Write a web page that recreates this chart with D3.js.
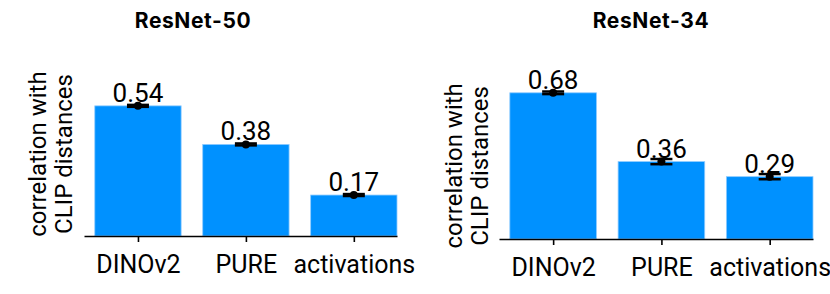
<!DOCTYPE html>
<html>
<head>
<meta charset="utf-8">
<script src="https://cdn.jsdelivr.net/npm/d3@7"></script>
<style>
  body { margin: 0; background: #fff; }
  text { font-family: Roboto, "Noto Sans", sans-serif; }
</style>
</head>
<body>
<div id="chart"></div>
<script>
// data
let categories = ['DINOv2', 'PURE', 'activations'];
let titles = ['ResNet-50', 'ResNet-34'];
let values50 = [0.54, 0.38, 0.17];
let errors50 = [0.004, 0.004, 0.004];
let values34 = [0.68, 0.36, 0.29];
let errors34 = [0.006, 0.012, 0.012];

let width = 830;
let height = 294;

let svg = d3.select('#chart')
    .append('svg')
    .attr('width', width)
    .attr('height', height);

// one panel per model, pixel spots picked to line up with the reference
let panels = [
    { title: titles[0], values: values50, errors: errors50, left: 84, right: 397, zero: 236, unit: 241, titleX: 193, labelX: 38 },
    { title: titles[1], values: values34, errors: errors34, left: 499, right: 813, zero: 239, unit: 215, titleX: 651, labelX: 454 }
];

panels.forEach(p => {
    let g = svg.append('g');

    // x as a linear scale over bar index, like matplotlib
    let x = d3.scaleLinear()
        .domain([-0.5, 2.4])
        .range([p.left, p.right]);
    let y = d3.scaleLinear()
        .domain([0, 0.68])
        .range([p.zero, p.zero - 0.68 * p.unit]);

    let barW = x(0.8) - x(0);

    g.selectAll('.bar')
        .data(p.values)
        .enter()
        .append('rect')
        .attr('class', 'bar')
        .attr('x', (d, i) => x(i) - barW / 2)
        .attr('y', d => y(d))
        .attr('width', barW)
        .attr('height', d => y(0) - y(d))
        .style('fill', '#0091ff')
        .style('stroke', '#8fcbff')
        .style('stroke-width', 0.8);

    // bottom axis
    let axis = g.append('g')
        .attr('transform', `translate(0,${p.zero})`)
        .call(d3.axisBottom(x)
            .tickValues([0, 1, 2])
            .tickFormat(i => categories[i])
            .tickSize(6)
            .tickSizeOuter(0)
            .tickPadding(13));
    axis.select('.domain').attr('stroke', '#000').attr('stroke-width', 1.6);
    axis.selectAll('.tick line').attr('stroke-width', 1.6);
    axis.selectAll('.tick text')
        .style('font-size', '25px')
        .style('fill', '#000');

    // error bars
    let err = g.selectAll('.err')
        .data(p.values)
        .enter()
        .append('g')
        .attr('class', 'err');
    err.append('line')
        .attr('x1', (d, i) => x(i))
        .attr('x2', (d, i) => x(i))
        .attr('y1', (d, i) => y(d + p.errors[i]))
        .attr('y2', (d, i) => y(d - p.errors[i]))
        .attr('stroke', '#000')
        .attr('stroke-width', 2);
    [1, -1].forEach(s => {
        err.append('line')
            .attr('x1', (d, i) => x(i) - 11)
            .attr('x2', (d, i) => x(i) + 11)
            .attr('y1', (d, i) => y(d + s * p.errors[i]))
            .attr('y2', (d, i) => y(d + s * p.errors[i]))
            .attr('stroke', '#000')
            .attr('stroke-width', 2.5);
    });
    err.append('circle')
        .attr('cx', (d, i) => x(i))
        .attr('cy', d => y(d))
        .attr('r', 4)
        .style('fill', '#000');

    // value labels
    g.selectAll('.val')
        .data(p.values)
        .enter()
        .append('text')
        .attr('class', 'val')
        .text(d => d.toFixed(2))
        .attr('x', (d, i) => x(i))
        .attr('y', d => y(d) - 4)
        .attr('text-anchor', 'middle')
        .style('font-size', '26px');

    // title
    g.append('text')
        .text(p.title)
        .attr('x', p.titleX)
        .attr('y', 28)
        .attr('text-anchor', 'middle')
        .style('font-family', 'Inter, Roboto, sans-serif')
        .style('font-size', '21px')
        .style('letter-spacing', '0.6px')
        .style('font-weight', 'bold');

    // y label, two lines
    let cy = (y(0) + y(0.68)) / 2;
    let yl = g.append('text')
        .attr('transform', `translate(${p.labelX},${cy}) rotate(-90)`)
        .attr('text-anchor', 'middle')
        .style('font-size', '24px');
    yl.append('tspan').attr('x', 0).attr('dy', '0.35em').text('correlation with');
    yl.append('tspan').attr('x', 0).attr('dy', '1.05em').text('CLIP distances');
});
</script>
</body>
</html>
